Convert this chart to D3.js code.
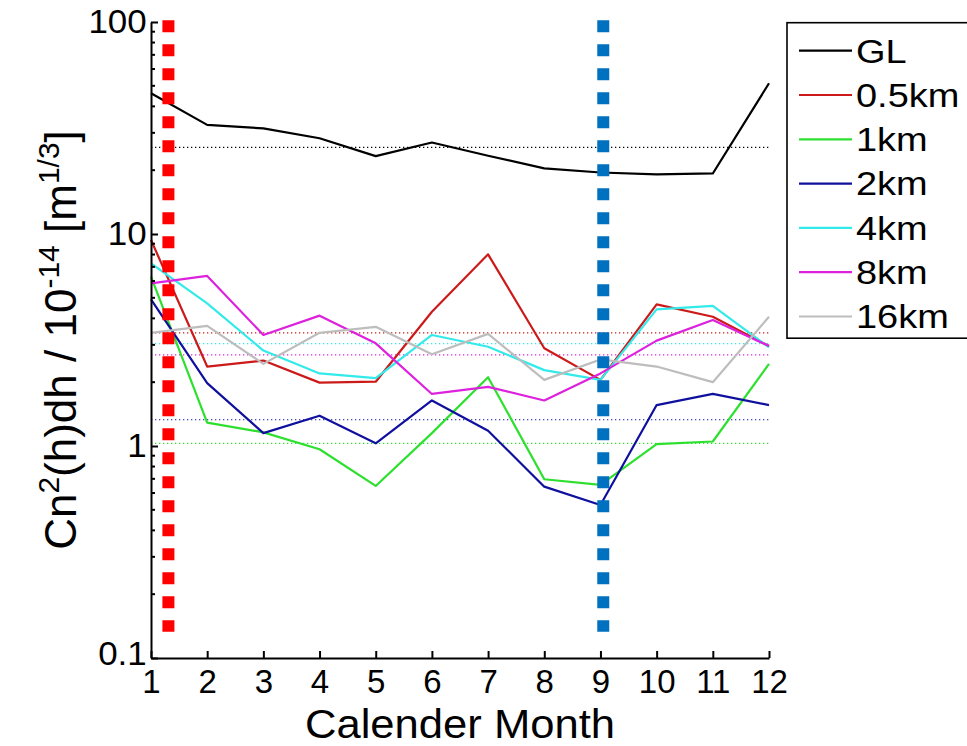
<!DOCTYPE html>
<html><head><meta charset="utf-8">
<script src="https://cdn.jsdelivr.net/npm/d3@7"></script>
<style>
body{margin:0;background:#fff;}
svg{display:block;}
text{font-family:"Liberation Sans",Arial,Helvetica,sans-serif;fill:#000;}
</style>
</head><body>
<svg id="chart" width="967" height="746"></svg>
<script>
// ---------- data ----------
const months = [1,2,3,4,5,6,7,8,9,10,11,12];
const xTickLabels = ["1","2","3","4","5","6","7","8","9","10","11","12"];
const yTickValues = [0.1,1,10,100];
const yTickLabels = ["0.1","1","10","100"];
const seriesNames = ["GL","0.5km","1km","2km","4km","8km","16km"];
const seriesColors = ["#000000","#cc1a1a","#2ee02e","#10109e","#33eaea","#dd22dd","#bdbdbd"];
const valuesGL   = [46.1,32.7,31.5,28.3,23.3,27.0,23.4,20.4,19.5,19.1,19.3,51.4];
const values05km = [9.37,2.37,2.53,1.99,2.01,4.30,8.02,2.89,2.05,4.66,4.07,2.96];
const values1km  = [6.29,1.29,1.16,0.965,0.648,1.15,2.11,0.697,0.655,1.02,1.05,2.44];
const values2km  = [4.92,1.98,1.15,1.39,1.03,1.64,1.18,0.643,0.527,1.56,1.76,1.56];
const values4km  = [7.27,4.71,2.82,2.20,2.09,3.34,2.94,2.28,2.05,4.41,4.58,2.92];
const values8km  = [5.85,6.34,3.34,4.12,3.05,1.76,1.90,1.64,2.20,3.14,3.93,2.96];
const values16km = [3.42,3.69,2.44,3.42,3.65,2.71,3.38,2.05,2.56,2.37,2.00,4.07];
const meanLevels = [25.6,3.42,1.03,1.33,3.04,2.69,null];
const markerMonths = [1.31,9.05];
const markerColors = ["#ff0000","#0070c0"];
const markerRange = [0.133,102];
const xLabel = "Calender Month";

const allSeries = [valuesGL,values05km,values1km,values2km,values4km,values8km,values16km];

// ---------- layout ----------
const svg = d3.select("#chart");
const x = d3.scaleLinear().domain([1,12]).range([151,769]);
const y = d3.scaleLog().domain([0.1,100]).range([658,22]);

// mean dotted lines
svg.append("g").selectAll("line")
  .data(meanLevels.map((v,i)=>({v,c:seriesColors[i]})).filter(d=>d.v!==null))
  .join("line")
  .attr("x1",x(1)).attr("x2",x(12))
  .attr("y1",d=>y(d.v)).attr("y2",d=>y(d.v))
  .attr("stroke",d=>d.c).attr("stroke-width",1.2)
  .attr("stroke-dasharray","1.3,2.7");

// series lines
const line = d3.line().x((d,i)=>x(months[i])).y(d=>y(d));
svg.append("g").selectAll("path")
  .data(allSeries)
  .join("path")
  .attr("d",d=>line(d))
  .attr("fill","none")
  .attr("stroke",(d,i)=>seriesColors[i])
  .attr("stroke-width",2.2)
  .attr("stroke-linejoin","round");

// vertical dotted markers
svg.append("g").selectAll("line")
  .data(markerMonths)
  .join("line")
  .attr("x1",d=>x(d)).attr("x2",d=>x(d))
  .attr("y1",y(markerRange[1])).attr("y2",y(markerRange[0]))
  .attr("stroke",(d,i)=>markerColors[i])
  .attr("stroke-width",12)
  .attr("stroke-dasharray","12,12");

// axes
const fontTick = 33;
const xAxis = d3.axisBottom(x).tickValues(months).tickFormat((d,i)=>xTickLabels[i])
  .tickSizeInner(-7).tickSizeOuter(0).tickPadding(12);
const gx = svg.append("g").attr("transform",`translate(0,${y(0.1)})`).call(xAxis);
gx.select(".domain").attr("stroke","#000").attr("stroke-width",2);
gx.selectAll(".tick line").attr("stroke","#000").attr("stroke-width",2);
gx.selectAll(".tick text").attr("font-size",fontTick).attr("font-family","Liberation Sans, Arial, sans-serif").attr("fill","#000");

const yAxis = d3.axisLeft(y).tickValues(yTickValues).tickFormat((d,i)=>yTickLabels[i])
  .tickSizeInner(-7).tickSizeOuter(0).tickPadding(4);
const gy = svg.append("g").attr("transform",`translate(${x(1)},0)`).call(yAxis);
gy.select(".domain").attr("stroke","#000").attr("stroke-width",2);
gy.selectAll(".tick line").attr("stroke","#000").attr("stroke-width",2);
gy.selectAll(".tick text").attr("font-size",fontTick).attr("font-family","Liberation Sans, Arial, sans-serif").attr("fill","#000")
  .attr("transform","scale(1.06,1)");
gy.selectAll(".tick text").filter((d)=>d===0.1).attr("dy","0.2em");

// minor ticks
const minor = [];
[0.1,1,10].forEach(b=>{for(let k=2;k<=9;k++) minor.push(b*k);});
svg.append("g").selectAll("line").data(minor).join("line")
  .attr("x1",x(1)).attr("x2",x(1)+4)
  .attr("y1",d=>y(d)).attr("y2",d=>y(d))
  .attr("stroke","#000").attr("stroke-width",2);

// x label
svg.append("text").attr("transform",`translate(${(x(1)+x(12))/2},737.5) scale(1.09,1)`)
  .attr("text-anchor","middle").attr("font-size",40).text(xLabel);

// y label with superscripts
const yl = svg.append("text")
  .attr("transform",`translate(76,${(y(0.1)+y(100))/2}) rotate(-90)`)
  .attr("text-anchor","middle").attr("font-size",44);
const parts = [["Cn",0],["2",1],["(h)dh / 10",0],["-14",1],[" [m",0],["1/3",1],["]",0]];
let cur = 0;
parts.forEach(([t,s])=>{
  const shift = s ? -17 : 0;
  yl.append("tspan").attr("dy",shift-cur).attr("font-size",s?30:44).text(t);
  cur = shift;
});

// legend
const lg = svg.append("g");
lg.append("rect").attr("x",787).attr("y",22.7).attr("width",185).attr("height",315.5)
  .attr("fill","#fff").attr("stroke","#000").attr("stroke-width",1.6);
const items = lg.selectAll("g.item").data(seriesNames).join("g").attr("class","item")
  .attr("transform",(d,i)=>`translate(0,${50.7+i*44.3})`);
items.append("line").attr("x1",799).attr("x2",852).attr("y1",0).attr("y2",0)
  .attr("stroke",(d,i)=>seriesColors[i]).attr("stroke-width",2.2);
items.append("text").attr("transform","translate(856,0) scale(1.15,1)")
  .attr("dy","0.36em").attr("font-size",33).text(d=>d);
</script>
</body></html>
